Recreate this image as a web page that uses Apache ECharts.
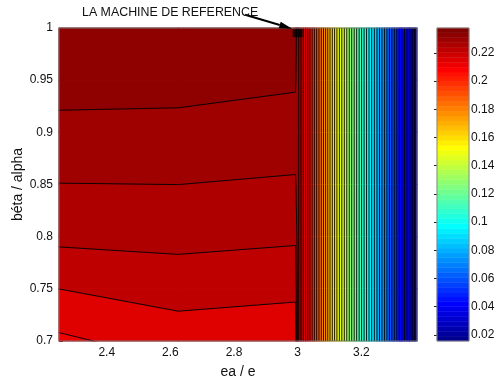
<!DOCTYPE html>
<html>
<head>
<meta charset="utf-8">
<script src="https://cdn.jsdelivr.net/npm/echarts@6/dist/echarts.min.js"></script>
<style>
  html, body { margin: 0; background: #fff; }
  #main { width: 498px; height: 381px; }
</style>
</head>
<body>
<div id="main"></div>
<script>
// grid nodes of the computed field (ea/e, beta/alpha)
const xNodes = [2.25, 2.625, 2.993, 3.0, 3.025, 3.05, 3.075, 3.1, 3.125, 3.15, 3.175, 3.2, 3.225, 3.25, 3.275, 3.3, 3.325, 3.35, 3.375]
const yNodes = [0.70, 0.75, 0.80, 0.85, 0.90, 0.95, 1.00]

// values bottom -> top, for the three columns left of ea/e = 3
const zAt2250 = [0.2151, 0.2203, 0.2257, 0.2289, 0.2325, 0.2345, 0.2360]
const zAt2625 = [0.2180, 0.2220, 0.2260, 0.2290, 0.2325, 0.2343, 0.2358]
const zAt2993 = [0.2170, 0.2214, 0.2253, 0.2284, 0.2315, 0.2339, 0.2355]
// from ea/e = 3 on, the value hardly depends on beta/alpha
const zRight = [0.231, 0.216, 0.200, 0.185, 0.169, 0.154, 0.140, 0.126, 0.112, 0.098, 0.085, 0.071, 0.057, 0.043, 0.030, 0.016]

const xTicks = [2.4, 2.6, 2.8, 3, 3.2]
const yTicks = [0.7, 0.75, 0.8, 0.85, 0.9, 0.95, 1]
const cbTicks = [0.02, 0.04, 0.06, 0.08, 0.1, 0.12, 0.14, 0.16, 0.18, 0.2, 0.22]
const cMin = 0.0157
const cMax = 0.2377
const nLevels = 52
const refPoint = [3.0, 0.995]
const refLabel = 'LA MACHINE DE REFERENCE'

const fontFamily = 'Liberation Sans, Arial, sans-serif'

// matlab jet(64), i = 1..64
function jetColor(i) {
    const u = j => (j < 1 || j > 47) ? 0 : (j <= 16 ? j / 16 : (j <= 31 ? 1 : (48 - j) / 16))
    const c = [u(i - 24), u(i - 8), u(i + 8)].map(v => Math.round(v * 255))
    return 'rgb(' + c.join(',') + ')'
}

const levels = []
for (let k = 0; k < nLevels; k++) levels.push(cMin + k * (cMax - cMin) / (nLevels - 1))

function bandColor(k) {
    let m = Math.floor(64 * k / (nLevels - 1) + 0.03)
    m = Math.max(0, Math.min(63, m))
    return jetColor(m + 1)
}

// Z[i][j] : i over xNodes, j over yNodes
const Z = [zAt2250, zAt2625, zAt2993].concat(zRight.map(v => yNodes.map(() => v)))

// filled bands and contour lines, cell by cell (linear along cell edges)
const bandPolys = []
const segments = []
for (let i = 0; i < xNodes.length - 1; i++) {
    for (let j = 0; j < yNodes.length - 1; j++) {
        const P = [[xNodes[i], yNodes[j]], [xNodes[i + 1], yNodes[j]], [xNodes[i + 1], yNodes[j + 1]], [xNodes[i], yNodes[j + 1]]]
        const V = [Z[i][j], Z[i + 1][j], Z[i + 1][j + 1], Z[i][j + 1]]
        const vmin = Math.min(...V)
        const vmax = Math.max(...V)
        for (let k = 0; k < nLevels - 1; k++) {
            const lo = levels[k]
            const hi = levels[k + 1]
            if (vmax < lo || vmin > hi) continue
            const pts = []
            for (let e = 0; e < 4; e++) {
                const p = P[e], q = P[(e + 1) % 4], a = V[e], b = V[(e + 1) % 4]
                if (a >= lo && a <= hi) pts.push(p)
                const ts = []
                ;[lo, hi].forEach(L => { if ((a - L) * (b - L) < 0) ts.push((L - a) / (b - a)) })
                ts.sort((s, t) => s - t).forEach(t => pts.push([p[0] + (q[0] - p[0]) * t, p[1] + (q[1] - p[1]) * t]))
            }
            if (pts.length >= 3) bandPolys.push({ pts: pts, color: bandColor(k) })
        }
        for (let k = 1; k < nLevels - 1; k++) {
            const L = levels[k]
            const cross = []
            for (let e = 0; e < 4; e++) {
                const p = P[e], q = P[(e + 1) % 4], a = V[e], b = V[(e + 1) % 4]
                if ((a < L) !== (b < L)) {
                    const t = (L - a) / (b - a)
                    cross.push([p[0] + (q[0] - p[0]) * t, p[1] + (q[1] - p[1]) * t])
                }
            }
            if (cross.length >= 2) segments.push(cross[0].concat(cross[1]))
            if (cross.length === 4) segments.push(cross[2].concat(cross[3]))
        }
    }
}

const chart = echarts.init(document.getElementById('main'))
const labelFmt = v => String(Math.round(v * 1000) / 1000)

const option = {
    animation: false,
    backgroundColor: '#fff',
    textStyle: { fontFamily: fontFamily },
    grid: [
        { left: 59, top: 28, width: 358, height: 313, outerBoundsMode: 'none', containLabel: false, show: true, z: 10, borderColor: '#777', borderWidth: 1, backgroundColor: 'transparent' },
        { left: 437, top: 28, width: 32, height: 313, outerBoundsMode: 'none', containLabel: false, show: true, z: 10, borderColor: '#888', borderWidth: 1, backgroundColor: 'transparent' }
    ],
    xAxis: [
        {
            type: 'value', gridIndex: 0, min: 2.25, max: 3.375,
            name: 'ea / e', nameLocation: 'middle', nameGap: 24, nameMoveOverlap: false,
            nameTextStyle: { fontSize: 14, color: '#111', fontFamily: fontFamily },
            axisLine: { show: false },
            splitLine: { show: false },
            axisTick: { inside: true, length: 4, customValues: xTicks, lineStyle: { color: '#000' } },
            axisLabel: { customValues: xTicks, formatter: labelFmt, fontSize: 12, color: '#111', margin: 6 }
        },
        { type: 'value', gridIndex: 1, min: 0, max: 1, show: false }
    ],
    yAxis: [
        {
            type: 'value', gridIndex: 0, min: 0.7, max: 1,
            name: 'béta / alpha', nameLocation: 'middle', nameGap: 34, nameMoveOverlap: false,
            nameTextStyle: { fontSize: 14, color: '#111', fontFamily: fontFamily },
            axisLine: { show: false },
            splitLine: { show: false },
            axisTick: { inside: true, length: 4, customValues: yTicks, lineStyle: { color: '#000' } },
            axisLabel: { customValues: yTicks, formatter: labelFmt, fontSize: 12, color: '#111', margin: 6 }
        },
        {
            type: 'value', gridIndex: 1, min: cMin, max: cMax, position: 'right',
            axisLine: { show: false },
            splitLine: { show: false },
            axisTick: { inside: true, length: 3, customValues: cbTicks, lineStyle: { color: '#222' } },
            axisLabel: { customValues: cbTicks, formatter: labelFmt, fontSize: 12, color: '#111', margin: 2 }
        },
        {
            type: 'value', gridIndex: 1, min: cMin, max: cMax, position: 'left',
            axisLine: { show: false },
            splitLine: { show: false },
            axisTick: { inside: true, length: 3, customValues: cbTicks, lineStyle: { color: '#222' } },
            axisLabel: { show: false }
        }
    ],
    series: [
        {
            type: 'custom',
            xAxisIndex: 0, yAxisIndex: 0,
            z: 1,
            silent: true,
            data: bandPolys.map((p, i) => [i]),
            encode: { x: -1, y: -1 },
            renderItem: function(params, api) {
                const poly = bandPolys[params.dataIndex]
                return {
                    type: 'polygon',
                    shape: { points: poly.pts.map(p => api.coord(p)) },
                    style: { fill: poly.color, stroke: poly.color, lineWidth: 1.2 }
                }
            }
        },
        {
            type: 'custom',
            xAxisIndex: 0, yAxisIndex: 0,
            z: 2,
            silent: true,
            data: segments,
            renderItem: function(params, api) {
                const a = api.coord([api.value(0), api.value(1)])
                const b = api.coord([api.value(2), api.value(3)])
                return {
                    type: 'line',
                    shape: { x1: a[0], y1: a[1], x2: b[0], y2: b[1] },
                    style: { stroke: '#000', lineWidth: 0.9 }
                }
            }
        },
        {
            type: 'scatter',
            xAxisIndex: 0, yAxisIndex: 0,
            z: 5,
            symbol: 'rect',
            symbolSize: [10, 8],
            itemStyle: { color: '#000' },
            data: [refPoint]
        },
        {
            // colorbar, 64 steps of jet
            type: 'custom',
            xAxisIndex: 1, yAxisIndex: 1,
            silent: true,
            data: Array.from({ length: 64 }, (_, m) => [m]),
            encode: { x: -1, y: -1 },
            renderItem: function(params, api) {
                const m = params.dataIndex
                const step = (cMax - cMin) / 64
                const p0 = api.coord([0, cMin + m * step])
                const p1 = api.coord([1, cMin + (m + 1) * step])
                return {
                    type: 'rect',
                    shape: { x: p0[0], y: p1[1], width: p1[0] - p0[0], height: p0[1] - p1[1] },
                    style: { fill: jetColor(m + 1), stroke: jetColor(m + 1), lineWidth: 0.5 }
                }
            }
        }
    ]
}
chart.setOption(option)

// annotation arrow pointing at the reference machine
const tip0 = chart.convertToPixel({ gridIndex: 0 }, refPoint)
const tip = [tip0[0] - 5.5, tip0[1] - 4.5]
const tail = [tip0[0] - 52.5, tip0[1] - 18.5]
const dx = tip[0] - tail[0], dy = tip[1] - tail[1]
const len = Math.sqrt(dx * dx + dy * dy)
const ux = dx / len, uy = dy / len
const headLen = 13, headW = 3.5
const base = [tip[0] - ux * headLen, tip[1] - uy * headLen]
chart.setOption({
    graphic: [
        {
            type: 'line', z: 20,
            shape: { x1: tail[0], y1: tail[1], x2: base[0], y2: base[1] },
            style: { stroke: '#000', lineWidth: 2 }
        },
        {
            type: 'polygon', z: 20,
            shape: { points: [tip, [base[0] - uy * headW, base[1] + ux * headW], [base[0] + uy * headW, base[1] - ux * headW]] },
            style: { fill: '#000' }
        },
        {
            type: 'text', z: 20, x: 82, y: 13,
            style: { text: refLabel, fontSize: 12.4, fontFamily: fontFamily, fill: '#111', verticalAlign: 'middle' }
        }
    ]
})
</script>
</body>
</html>
